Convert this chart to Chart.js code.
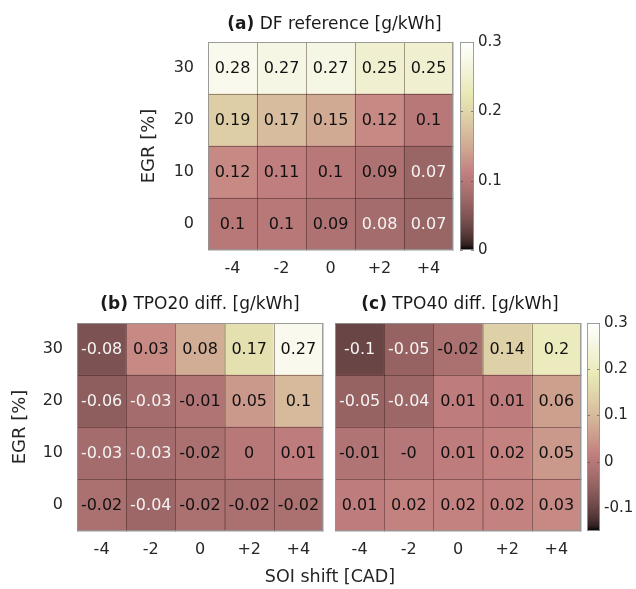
<!DOCTYPE html>
<html><head><meta charset="utf-8">
<script src="https://cdn.jsdelivr.net/npm/chart.js@4/dist/chart.umd.min.js"></script>
<style>
html,body{margin:0;padding:0;background:#fff;}
#wrap{position:relative;width:636px;height:589px;overflow:hidden;background:#fff;}
canvas{position:absolute;left:0;top:0;}
</style></head><body><div id="wrap">
<canvas id="cA" width="636" height="589"></canvas>
<canvas id="cB" width="636" height="589"></canvas>
<canvas id="cC" width="636" height="589"></canvas>
<canvas id="barA" width="636" height="589"></canvas>
<canvas id="barC" width="636" height="589"></canvas>
</div>
<script>
// ---------------- data ----------------
const soiShift = ['-4', '-2', '0', '+2', '+4'];          // x categories
const egrLevels = ['0', '10', '20', '30'];               // y categories, bottom -> top

// (a) DF reference [g/kWh], rows EGR 0,10,20,30
const dfRefEgr0  = [0.10, 0.10, 0.09, 0.08, 0.07];
const dfRefEgr10 = [0.12, 0.11, 0.10, 0.09, 0.07];
const dfRefEgr20 = [0.19, 0.17, 0.15, 0.12, 0.10];
const dfRefEgr30 = [0.28, 0.27, 0.27, 0.25, 0.25];

// (b) TPO20 diff. [g/kWh]
const tpo20Egr0  = [-0.02, -0.04, -0.02, -0.02, -0.02];
const tpo20Egr10 = [-0.03, -0.03, -0.02, 0.00, 0.01];
const tpo20Egr20 = [-0.06, -0.03, -0.01, 0.05, 0.10];
const tpo20Egr30 = [-0.08, 0.03, 0.08, 0.17, 0.27];

// (c) TPO40 diff. [g/kWh]
const tpo40Egr0  = [0.01, 0.02, 0.02, 0.02, 0.03];
const tpo40Egr10 = [-0.01, -0.004, 0.01, 0.02, 0.05];
const tpo40Egr20 = [-0.05, -0.04, 0.01, 0.01, 0.06];
const tpo40Egr30 = [-0.10, -0.05, -0.02, 0.14, 0.20];

// colour limits and colourbar tick labels
const dfLimits = [0, 0.3];
const diffLimits = [-0.15, 0.3];
const dfBarTicks = [0, 0.1, 0.2, 0.3];
const diffBarTicks = [-0.1, 0, 0.1, 0.2, 0.3];

// ---------------- helpers ----------------
const FONT = '"DejaVu Sans", "Liberation Sans", Arial, sans-serif';
const W = 636, H = 589;

function pink(t) {
  t = Math.max(0, Math.min(1, t));
  const cl = v => Math.max(0, Math.min(1, v));
  const hot = [cl(t * 8 / 3), cl((t - 3 / 8) * 8 / 3), cl((t - 0.75) * 4)];
  return hot.map(h => Math.round(255 * Math.sqrt((2 * t + h) / 3)));
}
function normT(v, lim) { return (v - lim[0]) / (lim[1] - lim[0]); }
function colorFor(v, lim) { const c = pink(normT(v, lim)); return `rgb(${c[0]},${c[1]},${c[2]})`; }
function fmtCell(v) {
  const r = Math.round(v * 100) / 100;
  const s = String(Math.abs(r));
  return (v < 0 ? '-' : '') + s;
}
function fmtTick(v) { const r = Math.round(v * 10) / 10; return String(r === 0 ? 0 : r); }

const cellPlugin = {
  id: 'cells',
  afterDatasetsDraw(chart, args, opts) {
    const ctx = chart.ctx;
    ctx.save();
    chart.data.datasets.forEach((ds, di) => {
      const meta = chart.getDatasetMeta(di);
      meta.data.forEach((bar, i) => {
        const p = bar.getProps(['x', 'y', 'base', 'width'], true);
        const top = Math.min(p.y, p.base), h = Math.abs(p.base - p.y);
        ctx.strokeStyle = 'rgba(40,20,20,0.22)';
        ctx.lineWidth = 1;
        ctx.strokeRect(Math.round(p.x - p.width / 2) + 0.5, Math.round(top) + 0.5, Math.round(p.width), Math.round(h));
        const v = ds.values[i];
        const t = normT(v, ds.lim);
        ctx.fillStyle = t < 0.28 ? '#f4f4f4' : '#111';
        ctx.font = '16px ' + FONT;
        ctx.textAlign = 'center';
        ctx.textBaseline = 'middle';
        ctx.fillText(fmtCell(v), p.x, top + h / 2 + 1);
      });
    });
    const a = chart.chartArea;
    ctx.strokeStyle = 'rgba(150,150,150,0.9)';
    ctx.lineWidth = 1;
    ctx.strokeRect(Math.round(a.left) + 0.5, Math.round(a.top) + 0.5, Math.round(a.width) - 1, Math.round(a.height) - 1);
    ctx.restore();
  }
};

const textPlugin = {
  id: 'panelText',
  afterDraw(chart, args, opts) {
    const ctx = chart.ctx;
    const a = chart.chartArea;
    ctx.save();
    ctx.fillStyle = '#1a1a1a';
    ctx.textBaseline = 'middle';
    if (opts.bold) {
      const fb = 'bold 17px ' + FONT, fn = '17px ' + FONT;
      ctx.font = fb; const wb = ctx.measureText(opts.bold).width;
      ctx.font = fn; const wn = ctx.measureText(opts.text).width;
      const cx = (a.left + a.right) / 2 + (opts.dx || 0);
      const x0 = cx - (wb + wn) / 2;
      const y = a.top - opts.above;
      ctx.textAlign = 'left';
      ctx.font = fb; ctx.fillText(opts.bold, x0, y);
      ctx.font = fn; ctx.fillText(opts.text, x0 + wb, y);
    }
    if (opts.extra) {
      ctx.font = '17.5px ' + FONT;
      ctx.textAlign = 'center';
      ctx.fillStyle = '#262626';
      ctx.fillText(opts.extra.text, opts.extra.x, opts.extra.y);
    }
    ctx.restore();
  }
};

function heatmap(id, rows, lim, area, cfg) {
  const yW = cfg.yWidth, xH = 40;
  const datasets = rows.map((vals, r) => ({
    label: egrLevels[r],
    data: vals.map(() => 1),
    values: vals,
    lim: lim,
    backgroundColor: vals.map(v => colorFor(v, lim)),
    borderWidth: 0,
    barPercentage: 1,
    categoryPercentage: 1
  }));
  return new Chart(document.getElementById(id), {
    type: 'bar',
    data: { labels: soiShift, datasets },
    options: {
      responsive: false, animation: false, devicePixelRatio: 1,
      events: [],
      layout: { padding: { left: area.l - yW, top: area.t, right: W - area.r, bottom: H - area.b - xH } },
      plugins: { legend: { display: false }, tooltip: { enabled: false }, title: { display: false },
        panelText: cfg.text },
      scales: {
        x: {
          stacked: true,
          grid: { display: false, drawTicks: false },
          border: { display: false },
          ticks: { color: '#262626', font: { family: FONT, size: 16 }, padding: 9, maxRotation: 0 },
          afterFit(s) { s.height = xH; }
        },
        y: {
          stacked: true, min: 0, max: egrLevels.length,
          grid: { display: false, drawTicks: false },
          border: { display: false },
          afterBuildTicks(s) { s.ticks = egrLevels.map((_, i) => ({ value: i + 0.5 })); },
          ticks: { display: cfg.yTicks, color: '#262626', font: { family: FONT, size: 16 }, padding: 14,
            callback: v => egrLevels[Math.floor(v)] },
          title: { display: cfg.yTicks, text: 'EGR [%]', color: '#262626', padding: 0,
            font: { family: FONT, size: 18, lineHeight: 1.2 } },
          afterFit(s) { s.width = yW; }
        }
      }
    },
    plugins: [cellPlugin, textPlugin]
  });
}

const gradPlugin = {
  id: 'grad',
  beforeDatasetsDraw(chart) {
    const ctx = chart.ctx, a = chart.chartArea, y = chart.scales.y;
    const lim = [y.min, y.max];
    const y0 = y.getPixelForValue(lim[0]), y1 = y.getPixelForValue(lim[1]);
    const g = ctx.createLinearGradient(0, y0, 0, y1);
    for (let k = 0; k <= 40; k++) { const t = k / 40; const c = pink(t); g.addColorStop(t, `rgb(${c[0]},${c[1]},${c[2]})`); }
    ctx.save();
    ctx.fillStyle = g;
    ctx.fillRect(a.left, a.top, a.width, a.height);
    ctx.strokeStyle = 'rgba(60,60,60,0.55)';
    ctx.lineWidth = 1;
    y.ticks.forEach(tk => {
      const py = Math.round(y.getPixelForValue(tk.value)) + 0.5;
      ctx.beginPath();
      ctx.moveTo(a.left, py); ctx.lineTo(a.left + 3, py);
      ctx.moveTo(a.right - 3, py); ctx.lineTo(a.right, py);
      ctx.stroke();
    });
    ctx.strokeStyle = 'rgba(150,150,150,0.9)';
    ctx.strokeRect(Math.round(a.left) + 0.5, Math.round(a.top) + 0.5, Math.round(a.width) - 1, Math.round(a.height) - 1);
    ctx.restore();
  }
};

function colorbar(id, lim, ticks, area) {
  const yW = 40;
  return new Chart(document.getElementById(id), {
    type: 'bar',
    data: { labels: [''], datasets: [] },
    options: {
      responsive: false, animation: false, devicePixelRatio: 1, events: [],
      layout: { padding: { left: area.l, top: area.t, right: W - area.r - yW, bottom: H - area.b } },
      plugins: { legend: { display: false }, tooltip: { enabled: false } },
      scales: {
        x: { display: false },
        y: {
          position: 'right', min: lim[0], max: lim[1],
          grid: { display: false, drawTicks: false },
          border: { display: false },
          afterBuildTicks(s) { s.ticks = ticks.map(v => ({ value: v })); },
          ticks: { color: '#262626', font: { family: FONT, size: 15 }, padding: 4, callback: v => fmtTick(v) },
          afterFit(s) { s.width = yW; }
        }
      }
    },
    plugins: [gradPlugin]
  });
}

heatmap('cA', [dfRefEgr0, dfRefEgr10, dfRefEgr20, dfRefEgr30], dfLimits,
  { l: 208, t: 42, r: 453, b: 250 },
  { yWidth: 69, yTicks: true, text: { bold: '(a)', text: ' DF reference [g/kWh]', above: 17, dx: 4 } });
heatmap('cB', [tpo20Egr0, tpo20Egr10, tpo20Egr20, tpo20Egr30], diffLimits,
  { l: 77, t: 323, r: 323, b: 531 },
  { yWidth: 67, yTicks: true, text: { bold: '(b)', text: ' TPO20 diff. [g/kWh]', above: 18, dx: 0,
    extra: { text: 'SOI shift [CAD]', x: 330, y: 577 } } });
heatmap('cC', [tpo40Egr0, tpo40Egr10, tpo40Egr20, tpo40Egr30], diffLimits,
  { l: 335, t: 323, r: 581, b: 531 },
  { yWidth: 0, yTicks: false, text: { bold: '(c)', text: ' TPO40 diff. [g/kWh]', above: 18, dx: 2 } });
colorbar('barA', dfLimits, dfBarTicks, { l: 460, t: 42, r: 474, b: 250 });
colorbar('barC', diffLimits, diffBarTicks, { l: 587, t: 323, r: 600, b: 531 });
</script>
</body></html>
